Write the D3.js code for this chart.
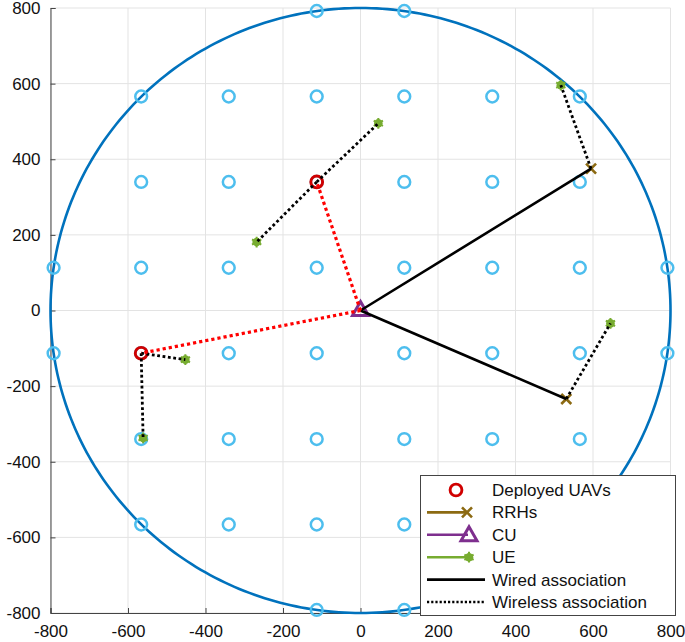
<!DOCTYPE html>
<html><head><meta charset="utf-8">
<script src="https://cdn.jsdelivr.net/npm/d3@7"></script>
<style>body{margin:0;background:#fff}svg{display:block;font-family:"Liberation Sans",Arial,sans-serif}</style>
</head><body>
<svg id="c" width="685" height="642"></svg>
<script>
// ---- data ----
const ticks = [-800,-600,-400,-200,0,200,400,600,800];
const areaRadius = 800;
const gridX = [-113,113,-566,-340,-113,113,340,566,-566,-340,-113,113,340,566,-792,-566,-340,-113,113,340,566,792,-792,-566,-340,-113,113,340,566,792,-566,-340,-113,113,340,566,-566,-340,-113,113,340,566,-113,113];
const gridY = [792,792,566,566,566,566,566,566,340,340,340,340,340,340,113,113,113,113,113,113,113,113,-113,-113,-113,-113,-113,-113,-113,-113,-340,-340,-340,-340,-340,-340,-566,-566,-566,-566,-566,-566,-792,-792];
const uavX = [-113,-566];
const uavY = [340,-113];
const rrhX = [595,531];
const rrhY = [375,-234];
const cuX = [0], cuY = [0];
const ueX = [517,645,-268,46,-452,-561];
const ueY = [596,-34,181,495,-130,-337];
// wired: CU -> RRH index
const wired = [[0,0],[0,1]];
// wireless UE links: [sourceType, sourceIndex, ueIndex]
const wirelessUE = [["rrh",0,0],["rrh",1,1],["uav",0,2],["uav",0,3],["uav",1,4],["uav",1,5]];
// CU -> UAV wireless (red)
const wirelessUAV = [[0,0],[0,1]];
const legendLabels = ["Deployed UAVs","RRHs","CU","UE","Wired association","Wireless association"];

// ---- colours ----
const cBlue="#0072BD", cGrid="#4DBEEE", cRed="#D00000", cBrown="#8C6A12", cPurple="#7E2F8E", cGreen="#77AC30";

const svg = d3.select("#c");
const x = d3.scaleLinear([-800,800],[50.5,670.5]);
const y = d3.scaleLinear([-800,800],[613,8]);

// grid lines
const g = svg.append("g");
g.selectAll("line.vx").data(ticks).join("line").attr("x1",d=>x(d)).attr("x2",d=>x(d)).attr("y1",y(-800)).attr("y2",y(800)).attr("stroke","#e3e3e3").attr("stroke-width",1);
g.selectAll("line.hy").data(ticks).join("line").attr("y1",d=>y(d)).attr("y2",d=>y(d)).attr("x1",x(-800)).attr("x2",x(800)).attr("stroke","#e3e3e3").attr("stroke-width",1);

// axes
const fmt = d=>String(d);
const ax = svg.append("g").attr("transform",`translate(0,${y(-800)})`).call(d3.axisBottom(x).tickValues(ticks).tickSize(-5).tickPadding(12).tickFormat(fmt));
const ay = svg.append("g").attr("transform",`translate(${x(-800)},0)`).call(d3.axisLeft(y).tickValues(ticks).tickSize(-5).tickPadding(10).tickFormat(fmt));
[ax,ay].forEach(a=>{a.select(".domain").attr("stroke","#444");a.selectAll(".tick line").attr("stroke","#444");a.selectAll("text").attr("font-size",17).attr("fill","#111").attr("font-family","Liberation Sans, Arial, sans-serif");});

// coverage circle
const circ = d3.range(0,361,1).map(a=>[areaRadius*Math.cos(a*Math.PI/180),areaRadius*Math.sin(a*Math.PI/180)]);
svg.append("path").attr("d",d3.line().x(d=>x(d[0])).y(d=>y(d[1]))(circ)).attr("fill","none").attr("stroke",cBlue).attr("stroke-width",2.6);

// grid points
svg.append("g").selectAll("circle").data(gridX.map((v,i)=>[v,gridY[i]])).join("circle")
 .attr("cx",d=>x(d[0])).attr("cy",d=>y(d[1])).attr("r",5.9).attr("fill","none").attr("stroke",cGrid).attr("stroke-width",2.5);

// markers
function drawUAV(sel,cx,cy){sel.append("circle").attr("cx",cx).attr("cy",cy).attr("r",5.9).attr("fill","none").attr("stroke",cRed).attr("stroke-width",2.9);}
function drawRRH(sel,cx,cy){const s=5;sel.append("path").attr("d",`M${cx-s},${cy-s}L${cx+s},${cy+s}M${cx-s},${cy+s}L${cx+s},${cy-s}`).attr("stroke",cBrown).attr("stroke-width",2.6).attr("fill","none");}
function drawCU(sel,cx,cy){const w=8,h=7;sel.append("path").attr("d",`M${cx},${cy-h}L${cx+w},${cy+h}L${cx-w},${cy+h}Z`).attr("stroke",cPurple).attr("stroke-width",3).attr("fill","none").attr("stroke-linejoin","miter");}
function drawUE(sel,cx,cy){sel.append("circle").attr("cx",cx).attr("cy",cy).attr("r",4.3).attr("fill",cGreen);
 sel.append("path").attr("d",d3.symbol(d3.symbolAsterisk,80)()).attr("transform",`translate(${cx},${cy})`).attr("stroke",cGreen).attr("stroke-width",2).attr("fill","none");}

const mk = svg.append("g");
uavX.forEach((v,i)=>drawUAV(mk,x(v),y(uavY[i])));
rrhX.forEach((v,i)=>drawRRH(mk,x(v),y(rrhY[i])));
cuX.forEach((v,i)=>drawCU(mk,x(v),y(cuY[i])-2));
ueX.forEach((v,i)=>drawUE(mk,x(v),y(ueY[i])));

// association lines (drawn over markers)
const ln = svg.append("g").attr("fill","none");
wired.forEach(([c,r])=>ln.append("line").attr("x1",x(cuX[c])).attr("y1",y(cuY[c])).attr("x2",x(rrhX[r])).attr("y2",y(rrhY[r])).attr("stroke","#000").attr("stroke-width",2.6));
wirelessUE.forEach(([t,s,u])=>{const sx=t==="rrh"?rrhX[s]:uavX[s], sy=t==="rrh"?rrhY[s]:uavY[s];
 ln.append("line").attr("x1",x(sx)).attr("y1",y(sy)).attr("x2",x(ueX[u])).attr("y2",y(ueY[u])).attr("stroke","#000").attr("stroke-width",2.8).attr("stroke-dasharray","2.8,2.6");});
wirelessUAV.forEach(([c,u])=>ln.append("line").attr("x1",x(cuX[c])).attr("y1",y(cuY[c])).attr("x2",x(uavX[u])).attr("y2",y(uavY[u])).attr("stroke","#FF0000").attr("stroke-width",3.2).attr("stroke-dasharray","3.2,3"));

// legend
const L = svg.append("g");
L.append("rect").attr("x",420.5).attr("y",475.5).attr("width",255).attr("height",140).attr("fill","#fff").attr("stroke","#444").attr("stroke-width",1);
const rowY = i=>490+i*22.4;
legendLabels.forEach((t,i)=>L.append("text").attr("x",492).attr("y",rowY(i)+6).attr("font-size",17).attr("fill","#111").text(t));
drawUAV(L,456,rowY(0));
L.append("line").attr("x1",427).attr("x2",467).attr("y1",rowY(1)).attr("y2",rowY(1)).attr("stroke",cBrown).attr("stroke-width",2.6); drawRRH(L,467,rowY(1));
L.append("line").attr("x1",427).attr("x2",468).attr("y1",rowY(2)).attr("y2",rowY(2)).attr("stroke",cPurple).attr("stroke-width",2.6); drawCU(L,469,rowY(2)-1);
L.append("line").attr("x1",427).attr("x2",468).attr("y1",rowY(3)).attr("y2",rowY(3)).attr("stroke",cGreen).attr("stroke-width",2.6); drawUE(L,469,rowY(3));
L.append("line").attr("x1",427).attr("x2",485).attr("y1",rowY(4)).attr("y2",rowY(4)).attr("stroke","#000").attr("stroke-width",2.6);
L.append("line").attr("x1",427).attr("x2",485).attr("y1",rowY(5)).attr("y2",rowY(5)).attr("stroke","#000").attr("stroke-width",2.6).attr("stroke-dasharray","2.2,2");
</script>
</body></html>
